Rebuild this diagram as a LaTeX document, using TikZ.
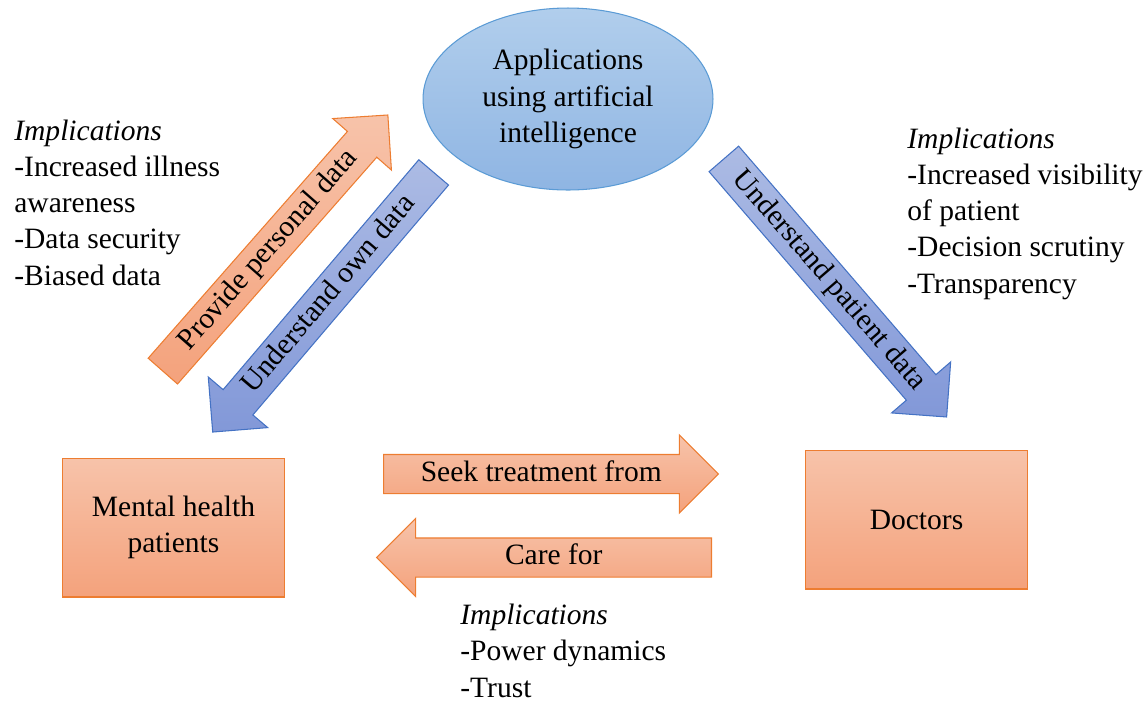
\documentclass[tikz,border=0pt]{standalone}
\usepackage{fontspec}
\setmainfont{Liberation Serif}
\usetikzlibrary{shapes.geometric,shapes.arrows}
\definecolor{warmline}{HTML}{ED7D31}
\definecolor{warmtop}{HTML}{F7C3AA}
\definecolor{warmbot}{HTML}{F4A27C}
\definecolor{ovalline}{HTML}{5B9BD5}
\definecolor{ovaltop}{HTML}{B1CEEC}
\definecolor{ovalbot}{HTML}{8FB5E3}
\definecolor{coolline}{HTML}{4472C4}
\definecolor{cooltop}{HTML}{ACBBE4}
\definecolor{coolbot}{HTML}{8298D8}

\begin{document}
\begin{tikzpicture}[x=0.02cm, y=-0.02cm, font=\fontsize{16.8}{20.6}\selectfont,
  party/.style={rectangle, draw=warmline, line width=0.6pt, top color=warmtop, bottom color=warmbot, minimum width=4.44cm, minimum height=2.78cm, align=center},
  band/.style={single arrow, single arrow head extend=0.39cm, single arrow tip angle=90, minimum height=6.7cm, text height=0.42cm, text depth=0.14cm, inner xsep=0pt, inner ysep=0.1cm, line width=0.6pt},
  warmband/.style={band, draw=warmline, top color=warmtop, bottom color=warmbot},
  coolband/.style={band, draw=coolline, top color=cooltop, bottom color=coolbot},
  implic/.style={anchor=base west, align=left, inner sep=0pt}]
\useasboundingbox (0,0) rectangle (1148,704);

% actors
\node[ellipse, draw=ovalline, line width=0.6pt, top color=ovaltop, bottom color=ovalbot, minimum width=5.8cm, minimum height=3.64cm, align=center] (apps) at (568,99) {Applications\\using artificial\\intelligence};
\node[party] (patients) at (173.5,527.5) {Mental health\\patients};
\node[party] (doctors) at (916.5,519.5) {Doctors};

% block arrows
\node[warmband, minimum height=6.82cm, rotate=48.7, anchor=tail] (provide) at (162.5,371.5) {Provide personal data};
\node[coolband, minimum height=6.82cm, rotate=49.6, shape border rotate=180, anchor=tail] (ownview) at (434,172) {Understand own data};
\node[coolband, minimum height=6.82cm, rotate=-49.2, anchor=tail] (patview) at (723.5,158.5) {Understand patient data};
\node[warmband, anchor=tail] (seek) at (383,474) {Seek treatment from};
\node[warmband, shape border rotate=180, anchor=tail] (carefor) at (712,557.5) {Care for};

% implications (anchored at the last line)
\node[implic] (implleft) at (14,285) {\textit{Implications}\\-Increased illness\\awareness\\-Data security\\-Biased data};
\node[implic] (implright) at (907,293) {\textit{Implications}\\-Increased visibility\\of patient\\-Decision scrutiny\\-Transparency};
\node[implic] (implbottom) at (460,697) {\textit{Implications}\\-Power dynamics\\-Trust};
\end{tikzpicture}
\end{document}
